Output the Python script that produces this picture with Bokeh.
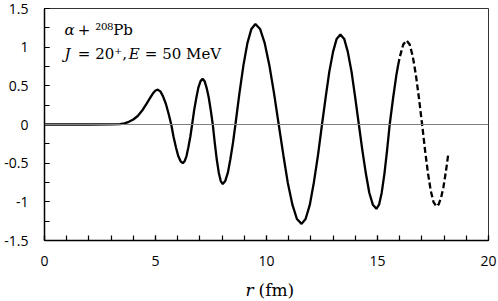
from bokeh.plotting import figure
from bokeh.layouts import column
from bokeh.models import Range1d, FixedTicker, Span, Label
from bokeh.embed import file_html
from bokeh.resources import INLINE

# solid part of the wave function
r_solid = [0, 1, 2, 3, 3.4, 3.6, 3.8, 4.0, 4.2, 4.4, 4.6, 4.75, 4.88, 5.0, 5.1,
           5.22, 5.34, 5.47, 5.59, 5.71, 5.81, 5.92, 6.02, 6.13, 6.23,
           6.31, 6.40, 6.48, 6.57, 6.65, 6.74, 6.84, 6.93, 7.03, 7.12,
           7.21, 7.30, 7.40, 7.49, 7.58, 7.67, 7.76, 7.85, 7.94, 8.03,
           8.14, 8.26, 8.37, 8.49, 8.60, 8.78, 8.96, 9.14, 9.32, 9.50,
           9.71, 9.92, 10.13, 10.34, 10.55, 10.76, 10.96, 11.17, 11.37, 11.58,
           11.76, 11.95, 12.13, 12.32, 12.50, 12.67, 12.83, 13.00, 13.16, 13.33,
           13.50, 13.66, 13.83, 13.99, 14.16, 14.32, 14.48, 14.63, 14.79, 14.95,
           15.07, 15.19, 15.31, 15.43, 15.55, 15.70, 15.85, 15.93]
u_solid = [0, 0, 0, 0.002, 0.005, 0.015, 0.035, 0.065, 0.11, 0.18, 0.27, 0.34, 0.40, 0.44, 0.45,
           0.428, 0.364, 0.265, 0.139, 0.0, -0.155, -0.294, -0.405, -0.476, -0.50,
           -0.476, -0.405, -0.294, -0.155, 0.0, 0.182, 0.346, 0.477, 0.561, 0.59,
           0.561, 0.477, 0.346, 0.182, 0.0, -0.238, -0.453, -0.623, -0.732, -0.77,
           -0.732, -0.623, -0.453, -0.238, 0.0, 0.402, 0.764, 1.052, 1.236, 1.30,
           1.236, 1.052, 0.764, 0.402, 0.0, -0.397, -0.755, -1.04, -1.222, -1.285,
           -1.222, -1.04, -0.755, -0.397, 0.0, 0.36, 0.684, 0.942, 1.107, 1.164,
           1.107, 0.942, 0.684, 0.36, 0.0, -0.337, -0.641, -0.882, -1.037, -1.09,
           -1.037, -0.882, -0.641, -0.337, 0.0, 0.336, 0.639, 0.77]

# dashed continuation
r_dash = [15.93, 16.01, 16.16, 16.31, 16.45, 16.59, 16.73, 16.87, 17.01,
          17.14, 17.27, 17.40, 17.53, 17.66, 17.76, 17.87, 17.97, 18.08, 18.18]
u_dash = [0.77, 0.879, 1.034, 1.087, 1.034, 0.879, 0.639, 0.336, 0.0,
          -0.328, -0.623, -0.858, -1.008, -1.06, -1.03, -0.94, -0.81, -0.61, -0.40]

x_ticks = [0, 5, 10, 15, 20]
x_minor = list(range(0, 21))
y_ticks = [-1.5, -1.0, -0.5, 0.0, 0.5, 1.0, 1.5]
y_tick_labels = ["-1.5", "-1", "-0.5", "0", "0.5", "1", "1.5"]
y_minor = [-1.5, -1.25, -1.0, -0.75, -0.5, -0.25, 0.0, 0.25, 0.5, 0.75, 1.0, 1.25, 1.5]

p = figure(width=498, height=275, output_backend="svg", toolbar_location=None,
           x_range=Range1d(0, 20), y_range=Range1d(-1.5, 1.5),
           min_border_left=44, min_border_right=10, min_border_top=8, min_border_bottom=35)
p.xgrid.visible = False
p.ygrid.visible = False
p.outline_line_color = "#333333"
p.outline_line_width = 1
p.background_fill_color = "white"
p.border_fill_color = "white"

p.add_layout(Span(location=0, dimension="width", line_color="#7f7f7f", line_width=1))

p.line(r_solid, u_solid, line_color="black", line_width=2.3)
p.line(r_dash, u_dash, line_color="black", line_width=2.3, line_dash="6 3")

tick_font = "Open Sans"
p.xaxis.ticker = FixedTicker(ticks=x_ticks, minor_ticks=x_minor)
p.yaxis.ticker = FixedTicker(ticks=y_ticks, minor_ticks=y_minor)
p.yaxis.major_label_overrides = {t: s for t, s in zip(y_ticks, y_tick_labels)}
for ax in (p.xaxis, p.yaxis):
    ax.major_tick_in = 5
    ax.major_tick_out = 0
    ax.minor_tick_in = 5
    ax.minor_tick_out = 0
    ax.axis_line_color = "black"
    ax.axis_line_width = 1.5
    ax.major_tick_line_color = "black"
    ax.minor_tick_line_color = "black"
    ax.major_tick_line_width = 1.2
    ax.minor_tick_line_width = 1.2
    ax.major_label_text_font = tick_font
    ax.major_label_text_font_size = "14px"
    ax.major_label_text_color = "black"
p.xaxis.major_label_standoff = 15
p.yaxis.major_label_standoff = 16

serif = "DejaVu Serif"

def lab(fig, x, y, text, size="15px", style="normal", units="data"):
    fig.add_layout(Label(x=x, y=y, text=text, text_font=serif, text_font_size=size,
                         text_font_style=style, text_color="black",
                         x_units=units, y_units=units,
                         text_baseline="alphabetic", text_align="left"))

# annotation line 1
lab(p, 0.90, 1.216, "α", style="italic")
lab(p, 1.50, 1.216, "+ ²⁰⁸Pb")
# annotation line 2
lab(p, 0.90, 0.918, "J", style="italic")
lab(p, 1.50, 0.918, "= 20⁺,")
lab(p, 3.80, 0.918, "E", style="italic")
lab(p, 4.52, 0.918, "= 50 MeV")

# strip below the chart carrying the x axis title
q = figure(width=498, height=26, output_backend="svg", toolbar_location=None,
           x_range=Range1d(0, 498), y_range=Range1d(0, 26),
           x_axis_type=None, y_axis_type=None, sizing_mode="fixed",
           min_border_left=0, min_border_right=0, min_border_top=0, min_border_bottom=0)
q.xgrid.visible = False
q.ygrid.visible = False
q.outline_line_color = None
q.background_fill_color = "white"
q.border_fill_color = "white"
lab(q, 245, 14, "r", size="17px", style="italic", units="canvas")
lab(q, 258, 14, "(fm)", size="17px", units="canvas")

layout = column(p, q, spacing=0)
open("out.html", "w").write(file_html(layout, INLINE))
